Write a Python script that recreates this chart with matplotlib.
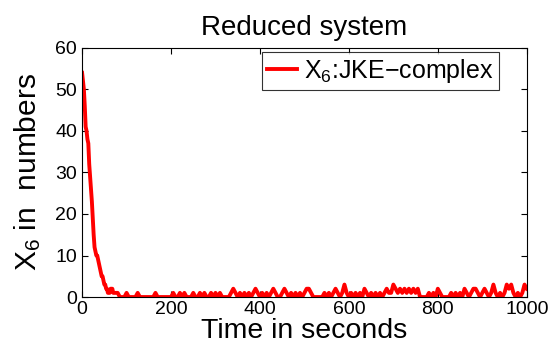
import numpy as np
import matplotlib
matplotlib.use("Agg")
import matplotlib.pyplot as plt

plt.rcParams['font.family'] = ['Liberation Sans', 'DejaVu Sans']
plt.rcParams['mathtext.fontset'] = 'custom'
plt.rcParams['mathtext.rm'] = 'Liberation Sans'
plt.rcParams['mathtext.it'] = 'Liberation Sans'
plt.rcParams['mathtext.default'] = 'regular'

# initial decay (2 s sampling)
t_decay = [0, 2, 4, 6, 8, 10, 12, 14, 16, 18, 20, 22, 24, 26, 28, 30, 32, 34, 36, 38,
           40, 42, 44, 46, 48, 50, 52, 54, 56, 58, 60, 62, 64, 66, 68, 70, 72, 74, 76, 78, 80]
x_decay = [54, 52, 50, 46, 41, 40, 38, 37, 32, 29, 26, 23, 19, 15, 12, 11, 10, 10, 9, 8,
           7, 6, 5, 5, 4, 3, 3, 2, 2, 1, 1, 1, 2, 2, 2, 1, 1, 1, 1, 1, 1]

# fluctuating tail, sampled every 5 s from 85 s to 1000 s
x_tail = [
    0, 0, 0, 1, 0, 0, 0, 0, 1, 0, 0, 0, 0, 0, 0, 0, 1, 0, 0, 0,   # 85-180
    0, 0, 0, 0, 1, 0, 0, 1, 0, 1, 0, 0, 0, 1, 0, 0, 1, 0, 1, 0,   # 185-280
    0, 1, 0, 1, 0, 1, 0, 0, 0, 0, 1, 2, 1, 0, 1, 0, 1, 0, 1, 0,   # 285-380
    1, 2, 1, 0, 1, 0, 1, 0, 1, 2, 1, 0, 0, 1, 2, 1, 0, 1, 0, 1,   # 385-480
    0, 1, 0, 1, 2, 2, 1, 0, 0, 0, 0, 0, 1, 0, 1, 0, 1, 2, 1, 0,   # 485-580
    1, 3, 1, 0, 1, 0, 1, 0, 1, 0, 2, 1, 0, 1, 0, 1, 0, 1, 0, 1,   # 585-680
    2, 1, 1, 3, 2, 1, 2, 1, 2, 1, 2, 1, 2, 1, 2, 0, 0, 0, 0, 1,   # 685-780
    0, 1, 0, 2, 1, 0, 0, 0, 0, 1, 0, 1, 0, 1, 0, 2, 1, 0, 1, 2,   # 785-880
    2, 1, 0, 1, 2, 1, 0, 1, 3, 1, 0, 1, 0, 1, 3, 2, 3, 1, 0, 1,   # 885-980
    0, 1, 3, 2,                                                   # 985-1000
]
t_tail = np.arange(85, 1001, 5)

t = np.concatenate([t_decay, t_tail])
x6 = np.concatenate([x_decay, x_tail])

fig = plt.figure(figsize=(5.51, 3.47), dpi=100)
ax = fig.add_axes([0.149, 0.144, 0.807, 0.718])

ax.plot(t, x6, color='red', linewidth=2.8, label='X$_{6}$:JKE\u2212complex')

ax.set_xlim(0, 1000)
ax.set_ylim(0, 60)
ax.set_xticks([0, 200, 400, 600, 800, 1000])
ax.set_yticks([0, 10, 20, 30, 40, 50, 60])
ax.tick_params(direction='in', top=True, right=True, labelsize=14, length=4, width=0.8)
ax.tick_params(axis='x', pad=3)
for s in ax.spines.values():
    s.set_linewidth(0.8)

ax.set_title('Reduced system', fontsize=20, pad=9)
ax.set_xlabel('Time in seconds', fontsize=20.5, labelpad=-0.5)
ax.set_ylabel('X$_{6}$ in  numbers', fontsize=21.5, labelpad=9)

leg = ax.legend(loc='upper right', bbox_to_anchor=(0.937, 0.984), fontsize=18,
                frameon=True, fancybox=False, handlelength=1.2, handletextpad=0.3,
                borderpad=0.2, borderaxespad=0)
leg.get_frame().set_edgecolor('black')
leg.get_frame().set_linewidth(0.8)

fig.savefig('out.png', dpi=100, facecolor='white')
